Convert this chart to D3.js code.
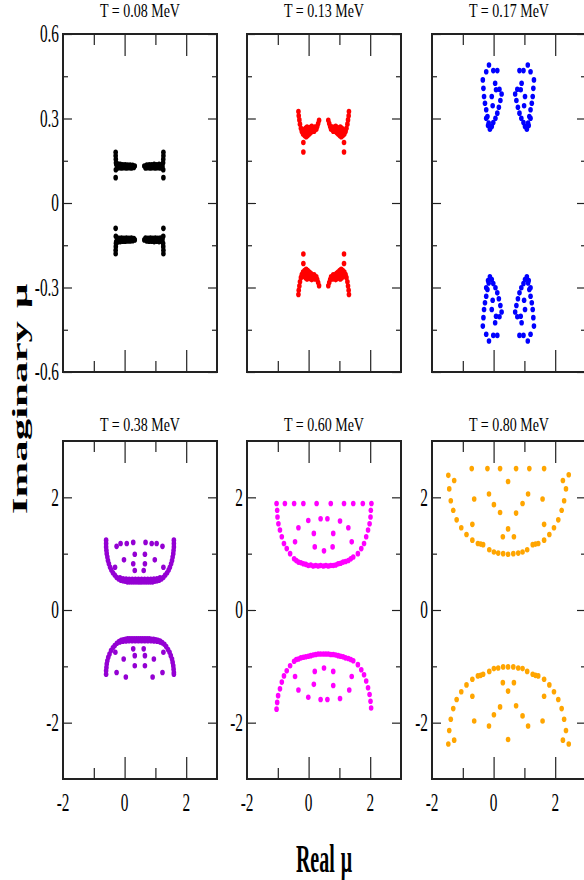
<!DOCTYPE html>
<html>
<head>
<meta charset="utf-8">
<script src="https://cdn.jsdelivr.net/npm/d3@7"></script>
<style>
  body { margin: 0; background: #fff; }
  text { font-family: "Liberation Serif", "Times New Roman", serif; fill: #000; }
</style>
</head>
<body>
<div id="chart"></div>
<script>
// Zeros of the partition function in the complex mu plane, six temperatures.
// Each entry is [Re mu, Im mu].

const temps = ["0.08", "0.13", "0.17", "0.38", "0.60", "0.80"];
const colors = ["#000000", "#ff0000", "#0000ff", "#9400d3", "#ff00ff", "#ffa500"];

const zerosT008 = [
  [-0.29,0.18],[-0.29,0.168],[-0.285,0.155],[-0.28,0.143],[-0.285,0.118],[-0.29,0.09],
  [-0.27,0.137],[-0.24,0.124],[-0.21,0.138],[-0.18,0.125],[-0.14,0.137],[-0.10,0.124],[-0.06,0.136],[-0.02,0.125],
  [0.02,0.136],[0.06,0.124],[0.10,0.135],[0.14,0.125],[0.18,0.135],[0.22,0.124],[0.26,0.134],[0.30,0.126],[0.33,0.131],
  [0.64,0.131],[0.68,0.124],[0.72,0.135],[0.76,0.125],[0.80,0.136],[0.84,0.124],[0.88,0.136],[0.92,0.125],
  [0.96,0.137],[1.00,0.124],[1.04,0.136],[1.08,0.125],[1.12,0.137],[1.16,0.124],[1.20,0.136],[1.23,0.130],
  [1.26,0.18],[1.26,0.168],[1.255,0.155],[1.25,0.143],[1.255,0.118],[1.26,0.09],
  [-0.29,-0.09],[-0.285,-0.118],[-0.28,-0.143],[-0.285,-0.155],[-0.29,-0.168],[-0.29,-0.18],
  [-0.27,-0.137],[-0.24,-0.124],[-0.21,-0.138],[-0.18,-0.125],[-0.14,-0.137],[-0.10,-0.124],[-0.06,-0.136],[-0.02,-0.125],
  [0.02,-0.136],[0.06,-0.124],[0.10,-0.135],[0.14,-0.125],[0.18,-0.135],[0.22,-0.124],[0.26,-0.134],[0.30,-0.126],[0.33,-0.131],
  [0.64,-0.131],[0.68,-0.124],[0.72,-0.135],[0.76,-0.125],[0.80,-0.136],[0.84,-0.124],[0.88,-0.136],[0.92,-0.125],
  [0.96,-0.137],[1.00,-0.124],[1.04,-0.136],[1.08,-0.125],[1.12,-0.137],[1.16,-0.124],[1.20,-0.136],[1.23,-0.130],
  [1.26,-0.09],[1.255,-0.118],[1.25,-0.143],[1.255,-0.155],[1.26,-0.168],[1.26,-0.18]
];

const zerosT013 = [
  [-0.33,0.325],[-0.32,0.31],[-0.30,0.295],[-0.28,0.28],[-0.25,0.265],[-0.22,0.254],
  [-0.18,0.245],[-0.13,0.24],[-0.08,0.235],[-0.03,0.24],[0.02,0.245],[0.07,0.25],[0.12,0.255],[-0.15,0.26],
  [-0.10,0.265],[-0.05,0.27],[0.00,0.262],[0.05,0.268],[0.10,0.272],[0.15,0.262],[0.20,0.27],[-0.12,0.25],
  [0.00,0.25],[-0.05,0.255],[0.08,0.26],[0.18,0.255],[0.22,0.265],
  [0.25,0.262],[0.28,0.272],[0.31,0.282],[0.34,0.294],[-0.17,0.215],[-0.17,0.181],
  [1.31,0.325],[1.30,0.31],[1.28,0.295],[1.26,0.28],[1.23,0.265],[1.20,0.254],
  [1.16,0.245],[1.11,0.24],[1.06,0.235],[1.01,0.24],[0.96,0.245],[0.91,0.25],[0.86,0.255],[1.13,0.26],
  [1.08,0.265],[1.03,0.27],[0.98,0.262],[0.93,0.268],[0.88,0.272],[0.83,0.262],[0.78,0.27],[1.10,0.25],
  [0.98,0.25],[1.03,0.255],[0.90,0.26],[0.80,0.255],[0.76,0.265],
  [0.73,0.262],[0.70,0.272],[0.67,0.282],[0.64,0.294],[1.15,0.215],[1.15,0.181],
  [-0.33,-0.325],[-0.32,-0.31],[-0.30,-0.295],[-0.28,-0.28],[-0.25,-0.265],[-0.22,-0.254],
  [-0.18,-0.245],[-0.13,-0.24],[-0.08,-0.235],[-0.03,-0.24],[0.02,-0.245],[0.07,-0.25],[0.12,-0.255],[-0.15,-0.26],
  [-0.10,-0.265],[-0.05,-0.27],[0.00,-0.262],[0.05,-0.268],[0.10,-0.272],[0.15,-0.262],[0.20,-0.27],[-0.12,-0.25],
  [0.00,-0.25],[-0.05,-0.255],[0.08,-0.26],[0.18,-0.255],[0.22,-0.265],
  [0.25,-0.262],[0.28,-0.272],[0.31,-0.282],[0.34,-0.294],[-0.17,-0.215],[-0.17,-0.181],
  [1.31,-0.325],[1.30,-0.31],[1.28,-0.295],[1.26,-0.28],[1.23,-0.265],[1.20,-0.254],
  [1.16,-0.245],[1.11,-0.24],[1.06,-0.235],[1.01,-0.24],[0.96,-0.245],[0.91,-0.25],[0.86,-0.255],[1.13,-0.26],
  [1.08,-0.265],[1.03,-0.27],[0.98,-0.262],[0.93,-0.268],[0.88,-0.272],[0.83,-0.262],[0.78,-0.27],[1.10,-0.25],
  [0.98,-0.25],[1.03,-0.255],[0.90,-0.26],[0.80,-0.255],[0.76,-0.265],
  [0.73,-0.262],[0.70,-0.272],[0.67,-0.282],[0.64,-0.294],[1.15,-0.215],[1.15,-0.181]
];

const zerosT017 = [
  [-0.15,0.490],[-0.24,0.466],[-0.35,0.437],[-0.33,0.407],[-0.31,0.378],[-0.28,0.354],[-0.24,0.331],[-0.20,0.307],
  [-0.16,0.284],[-0.12,0.262],[-0.06,0.272],[-0.01,0.286],[0.06,0.301],[0.12,0.319],[0.17,0.340],[0.22,0.364],
  [0.26,0.387],[0.19,0.404],[0.08,0.402],[0.05,0.425],[-0.01,0.470],[0.12,0.470],[-0.06,0.378],[-0.03,0.345],
  [-0.24,0.301],[-0.18,0.275],
  [1.11,0.490],[1.20,0.466],[1.31,0.437],[1.29,0.407],[1.27,0.378],[1.24,0.354],[1.20,0.331],[1.16,0.307],
  [1.12,0.284],[1.08,0.262],[1.02,0.272],[0.97,0.286],[0.90,0.301],[0.84,0.319],[0.79,0.340],[0.74,0.364],
  [0.70,0.387],[0.77,0.404],[0.88,0.402],[0.91,0.425],[0.97,0.470],[0.84,0.470],[1.02,0.378],[0.99,0.345],
  [1.20,0.301],[1.14,0.275],
  [-0.15,-0.490],[-0.24,-0.466],[-0.35,-0.437],[-0.33,-0.407],[-0.31,-0.378],[-0.28,-0.354],[-0.24,-0.331],[-0.20,-0.307],
  [-0.16,-0.284],[-0.12,-0.262],[-0.06,-0.272],[-0.01,-0.286],[0.06,-0.301],[0.12,-0.319],[0.17,-0.340],[0.22,-0.364],
  [0.26,-0.387],[0.19,-0.404],[0.08,-0.402],[0.05,-0.425],[-0.01,-0.470],[0.12,-0.470],[-0.06,-0.378],[-0.03,-0.345],
  [-0.24,-0.301],[-0.18,-0.275],
  [1.11,-0.490],[1.20,-0.466],[1.31,-0.437],[1.29,-0.407],[1.27,-0.378],[1.24,-0.354],[1.20,-0.331],[1.16,-0.307],
  [1.12,-0.284],[1.08,-0.262],[1.02,-0.272],[0.97,-0.286],[0.90,-0.301],[0.84,-0.319],[0.79,-0.340],[0.74,-0.364],
  [0.70,-0.387],[0.77,-0.404],[0.88,-0.402],[0.91,-0.425],[0.97,-0.470],[0.84,-0.470],[1.02,-0.378],[0.99,-0.345],
  [1.20,-0.301],[1.14,-0.275]
];

const zerosT038 = [
  [-0.60,1.24],[-0.60,1.18],[-0.60,1.12],[-0.59,1.06],[-0.58,1.00],[-0.56,0.94],[-0.54,0.88],[-0.51,0.82],
  [-0.47,0.76],[-0.43,0.71],[-0.38,0.66],[-0.32,0.62],[-0.26,0.58],[-0.19,0.55],[-0.12,0.53],[-0.05,0.52],
  [0.02,0.51],[0.09,0.50],[0.16,0.50],[0.23,0.50],[0.30,0.50],[0.37,0.50],[0.44,0.50],[0.50,0.50],[0.56,0.50],
  [0.63,0.50],[0.70,0.50],[0.77,0.50],[0.84,0.50],[0.91,0.50],[0.98,0.51],[1.05,0.52],[1.12,0.53],[1.19,0.55],
  [1.26,0.58],[1.32,0.62],[1.38,0.66],[1.43,0.71],[1.47,0.76],[1.51,0.82],[1.54,0.88],[1.56,0.94],[1.58,1.00],
  [1.59,1.06],[1.60,1.12],[1.60,1.18],[1.60,1.24],
  [-0.15,0.57],[-0.05,0.555],[0.05,0.55],[0.15,0.545],[0.25,0.545],[0.35,0.545],[0.45,0.545],[0.55,0.545],
  [0.65,0.545],[0.75,0.545],[0.85,0.545],[0.95,0.55],[1.05,0.555],[1.15,0.57],
  [-0.26,1.13],[-0.13,1.18],[0.07,1.18],[0.28,1.20],[0.68,1.20],[0.88,1.18],[1.04,1.18],[1.23,1.13],
  [-0.02,0.89],[0.33,0.99],[0.66,0.99],[0.98,0.89],[-0.31,0.76],[0.28,0.82],[0.33,0.70],[0.62,0.70],
  [0.66,0.82],[1.26,0.76],
  [-0.60,-1.14],[-0.60,-1.08],[-0.59,-1.02],[-0.58,-0.96],[-0.56,-0.90],[-0.53,-0.84],[-0.49,-0.78],[-0.44,-0.72],
  [-0.38,-0.67],[-0.32,-0.63],[-0.25,-0.59],[-0.18,-0.56],[-0.11,-0.54],[-0.04,-0.53],[0.03,-0.52],[0.10,-0.51],
  [0.17,-0.51],[0.24,-0.51],[0.31,-0.51],[0.38,-0.51],[0.45,-0.51],[0.52,-0.51],[0.59,-0.51],[0.66,-0.51],
  [0.73,-0.51],[0.80,-0.51],[0.87,-0.52],[0.94,-0.52],[1.01,-0.53],[1.08,-0.54],[1.15,-0.55],[1.22,-0.58],
  [1.29,-0.61],[1.35,-0.65],[1.41,-0.70],[1.46,-0.75],[1.50,-0.81],[1.54,-0.87],[1.56,-0.93],[1.58,-0.99],
  [1.59,-1.05],[1.60,-1.11],[1.60,-1.14],
  [-0.15,-0.57],[-0.05,-0.555],[0.05,-0.55],[0.15,-0.545],[0.25,-0.545],[0.35,-0.545],[0.45,-0.545],[0.55,-0.545],
  [0.65,-0.545],[0.75,-0.545],[0.85,-0.545],[0.95,-0.55],[1.05,-0.555],[1.15,-0.57],
  [-0.30,-0.75],[0.28,-0.69],[0.33,-0.81],[0.62,-0.69],[0.66,-0.81],[1.26,-0.75],[-0.03,-0.87],[0.33,-0.99],
  [0.66,-0.99],[0.95,-0.87],[-0.26,-1.11],[0.04,-1.19],[0.91,-1.19],[1.23,-1.11]
];

const zerosT060 = [
  [-1.04,1.89],[-1.02,1.77],[-1.01,1.65],[-0.98,1.53],[-0.93,1.42],[-0.87,1.30],[-0.80,1.18],[-0.71,1.09],
  [-0.60,1.00],[-0.47,0.91],[-0.33,0.85],[-0.17,0.82],[-0.01,0.79],[0.15,0.78],[0.31,0.78],[0.48,0.78],
  [0.64,0.78],[0.80,0.79],[0.96,0.82],[1.12,0.85],[1.29,0.88],[1.45,0.94],[1.60,1.00],[1.71,1.09],
  [1.80,1.18],[1.87,1.30],[1.93,1.42],[1.98,1.53],[2.01,1.65],[2.02,1.77],[2.04,1.89],
  [-0.40,0.88],[-0.25,0.84],[-0.09,0.81],[0.07,0.80],[0.23,0.79],[0.39,0.79],[0.56,0.79],[0.72,0.79],
  [0.88,0.80],[1.04,0.83],[1.20,0.86],[1.37,0.91],
  [-0.77,1.89],[-0.47,1.89],[-0.17,1.89],[0.26,1.89],[0.72,1.89],[1.15,1.89],[1.45,1.89],[1.76,1.89],
  [-0.01,1.59],[0.39,1.62],[0.61,1.62],[1.02,1.58],[-0.33,1.46],[1.29,1.46],[0.17,1.36],[0.80,1.36],
  [-0.44,1.21],[1.40,1.21],[0.20,1.12],[0.50,1.05],[0.78,1.12],
  [-1.04,-1.76],[-1.02,-1.64],[-0.99,-1.52],[-0.93,-1.40],[-0.87,-1.28],[-0.80,-1.17],[-0.71,-1.08],[-0.60,-0.99],
  [-0.47,-0.91],[-0.33,-0.87],[-0.17,-0.84],[-0.01,-0.82],[0.15,-0.80],[0.31,-0.78],[0.48,-0.78],[0.64,-0.78],
  [0.80,-0.79],[0.96,-0.81],[1.12,-0.83],[1.29,-0.86],[1.45,-0.90],[1.60,-0.97],[1.71,-1.06],[1.80,-1.15],
  [1.87,-1.26],[1.93,-1.38],[1.98,-1.50],[2.01,-1.62],[2.03,-1.74],
  [-0.40,-0.88],[-0.25,-0.85],[-0.09,-0.83],[0.07,-0.81],[0.23,-0.79],[0.39,-0.78],[0.56,-0.78],[0.72,-0.79],
  [0.88,-0.80],[1.04,-0.82],[1.20,-0.85],[1.37,-0.88],
  [0.20,-1.09],[0.50,-1.03],[0.80,-1.09],[-0.44,-1.18],[1.40,-1.18],[0.17,-1.32],[0.80,-1.34],[-0.33,-1.42],
  [1.32,-1.42],[-0.01,-1.55],[0.39,-1.59],[0.61,-1.59],[1.02,-1.57]
];

const zerosT080 = [
  [-0.71,2.51],[-0.20,2.51],[0.21,2.51],[0.73,2.51],[1.16,2.51],[1.64,2.51],
  [-1.47,2.39],[-1.28,2.30],[-1.44,2.15],[-1.39,1.94],[-1.31,1.77],[-1.20,1.60],[-1.05,1.46],[-0.88,1.34],
  [-0.69,1.24],[-0.51,1.18],[-0.42,1.17],[-0.34,1.16],[-0.14,1.07],[0.01,1.03],[0.15,1.01],[0.31,1.00],
  [0.47,0.99],[0.64,1.00],[0.80,1.01],[0.94,1.03],[1.09,1.07],[1.27,1.16],[1.36,1.17],[1.45,1.18],
  [1.64,1.24],[1.81,1.34],[1.96,1.46],[2.10,1.60],[2.21,1.77],[2.29,1.94],[2.35,2.15],[2.25,2.30],[2.44,2.40],
  [0.47,2.28],[-0.63,1.97],[-0.15,2.06],[0.01,1.87],[0.21,1.73],[0.73,1.72],[0.94,1.89],[1.12,2.06],
  [1.59,1.97],[-0.69,1.52],[1.64,1.52],[0.30,1.30],[0.47,1.44],[0.66,1.30],
  [-1.47,-2.38],[-1.28,-2.31],[-1.44,-2.14],[-1.39,-1.94],[-1.31,-1.75],[-1.20,-1.59],[-1.05,-1.45],[-0.88,-1.33],
  [-0.69,-1.23],[-0.51,-1.17],[-0.42,-1.16],[-0.34,-1.14],[-0.14,-1.09],[0.01,-1.04],[0.15,-1.03],[0.31,-1.01],
  [0.47,-1.01],[0.64,-1.01],[0.80,-1.03],[0.94,-1.04],[1.09,-1.09],[1.27,-1.14],[1.36,-1.16],[1.45,-1.17],
  [1.64,-1.23],[1.81,-1.33],[1.96,-1.45],[2.10,-1.59],[2.21,-1.75],[2.29,-1.94],[2.35,-2.14],[2.25,-2.31],[2.44,-2.38],
  [0.47,-2.30],[-0.63,-1.97],[-0.15,-2.06],[0.01,-1.86],[0.21,-1.72],[0.73,-1.70],[0.94,-1.88],[1.12,-2.06],
  [1.59,-1.97],[-0.69,-1.53],[1.64,-1.53],[0.30,-1.29],[0.47,-1.44],[0.66,-1.29]
];

const zeros = [zerosT008, zerosT013, zerosT017, zerosT038, zerosT060, zerosT080];

// axis ticks
const xDomain = [-2, 3];
const xMajor = [0, 2];
const xMinor = [-1, 1];
const xLabels = [-2, 0, 2];

const yDomainTop = [-0.6, 0.6];
const yMajorTop = [-0.6, -0.3, 0, 0.3, 0.6];
const yMinorTop = [-0.45, -0.15, 0.15, 0.45];
const yLabelsTop = ["-0.6", "-0.3", "0", "0.3", "0.6"];

const yDomainBottom = [-3, 3];
const yMajorBottom = [-2, 0, 2];
const yMinorBottom = [-1, 1];
const yLabelsBottom = ["-2", "0", "2"];

// layout
const svgWidth = 584, svgHeight = 880;
const panelLefts = [63, 247, 432];
const panelWidth = 154;
const rowTops = [34, 441];
const panelHeight = 338;

const svg = d3.select("#chart").append("svg")
  .attr("width", svgWidth)
  .attr("height", svgHeight);

zeros.forEach((pts, i) => {
  const row = Math.floor(i / 3), col = i % 3;
  const left = panelLefts[col], top = rowTops[row];
  const bottomRow = row === 1;

  const x = d3.scaleLinear().domain(xDomain).range([left, left + panelWidth]);
  const y = d3.scaleLinear()
    .domain(bottomRow ? yDomainBottom : yDomainTop)
    .range([top + panelHeight, top]);

  const g = svg.append("g");

  // ticks on all four sides, pointing inward
  const yMajor = bottomRow ? yMajorBottom : yMajorTop;
  const yMinor = bottomRow ? yMinorBottom : yMinorTop;
  g.append("g").attr("transform", `translate(0,${top + panelHeight})`)
    .call(d3.axisBottom(x).tickValues(xMajor).tickSize(-22).tickFormat(""));
  g.append("g").attr("transform", `translate(0,${top + panelHeight})`)
    .call(d3.axisBottom(x).tickValues(xMinor).tickSize(-11).tickFormat(""));
  g.append("g").attr("transform", `translate(0,${top})`)
    .call(d3.axisTop(x).tickValues(xMajor).tickSize(-22).tickFormat(""));
  g.append("g").attr("transform", `translate(0,${top})`)
    .call(d3.axisTop(x).tickValues(xMinor).tickSize(-11).tickFormat(""));
  g.append("g").attr("transform", `translate(${left},0)`)
    .call(d3.axisLeft(y).tickValues(yMajor).tickSize(-9).tickFormat(""));
  g.append("g").attr("transform", `translate(${left},0)`)
    .call(d3.axisLeft(y).tickValues(yMinor).tickSize(-5).tickFormat(""));
  g.append("g").attr("transform", `translate(${left + panelWidth},0)`)
    .call(d3.axisRight(y).tickValues(yMajor).tickSize(-9).tickFormat(""));
  g.append("g").attr("transform", `translate(${left + panelWidth},0)`)
    .call(d3.axisRight(y).tickValues(yMinor).tickSize(-5).tickFormat(""));
  g.selectAll(".domain").remove();
  g.selectAll(".tick line").attr("stroke", "#222").attr("stroke-width", 1.2);

  // frame
  g.append("rect")
    .attr("x", left).attr("y", top)
    .attr("width", panelWidth).attr("height", panelHeight)
    .attr("fill", "none").attr("stroke", "#222").attr("stroke-width", 2);

  // dots
  g.append("g").selectAll("ellipse")
    .data(pts)
    .join("ellipse")
    .attr("cx", (d) => x(d[0]))
    .attr("cy", (d) => y(d[1]))
    .attr("rx", 2.3)
    .attr("ry", 2.8)
    .attr("fill", colors[i]);

  // y tick labels: top row only on first panel, bottom row on all
  if (bottomRow || col === 0) {
    const labVals = bottomRow ? yMajorBottom : yMajorTop;
    const labTxt = bottomRow ? yLabelsBottom : yLabelsTop;
    g.selectAll(".ylab")
      .data(labVals)
      .join("text")
      .attr("class", "ylab")
      .attr("transform", (d) => `translate(${left - 4},${y(d)}) scale(0.9,1.45)`)
      .attr("text-anchor", "end")
      .attr("dy", "0.34em")
      .style("font-size", "17px")
      .text((d, k) => labTxt[k]);
  }

  // x tick labels on bottom row
  if (bottomRow) {
    g.selectAll(".xlab")
      .data(xLabels)
      .join("text")
      .attr("class", "xlab")
      .attr("transform", (d) => `translate(${x(d)},${top + panelHeight + 32}) scale(0.9,1.45)`)
      .attr("text-anchor", "middle")
      .style("font-size", "17px")
      .text((d) => d);
  }

  // panel title
  g.append("text")
    .attr("transform", `translate(${left + panelWidth / 2},${bottomRow ? 431 : 17}) scale(1,1.3)`)
    .attr("text-anchor", "middle")
    .style("font-size", "14px")
    .text(`T = ${temps[i]} MeV`);
});

// axis titles
const yTitle = svg.append("text")
  .attr("transform", "translate(27,399) rotate(-90) scale(2.15,1)")
  .attr("text-anchor", "middle")
  .style("font-size", "20px")
  .style("font-weight", "bold");
yTitle.append("tspan").text("Imaginary");
yTitle.append("tspan").attr("dx", 6).text("\u03bc");

const xTitle = svg.append("text")
  .attr("transform", "translate(324,872) scale(1,2)")
  .attr("text-anchor", "middle")
  .style("font-size", "20px")
  .style("font-weight", "bold");
xTitle.append("tspan").text("Real");
xTitle.append("tspan").attr("dx", 6).text("\u03bc");
</script>
</body>
</html>
